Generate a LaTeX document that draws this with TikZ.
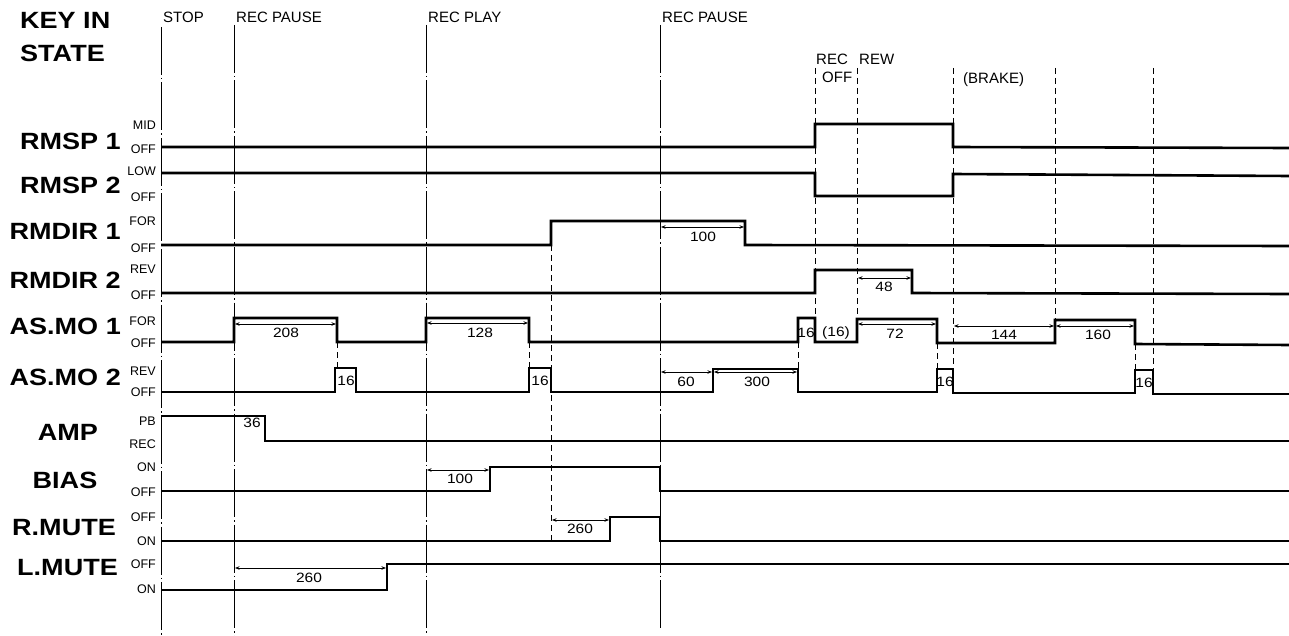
\documentclass[tikz,border=0pt]{standalone}
\usepackage{fontspec}
\setmainfont{Liberation Sans}
\newfontfamily\plotfont[FakeStretch=1.15]{Liberation Sans}
\usetikzlibrary{arrows.meta}

\begin{document}
\begin{tikzpicture}[x=1pt, y=1pt, yscale=-1,
  sig/.style={line width=2.6pt},
  keyline/.style={line width=1pt, dash pattern=on 48pt off 3pt on 1.5pt off 3pt},
  guide/.style={line width=0.9pt, dash pattern=on 6pt off 4pt},
  dim/.style={line width=0.7pt, {Stealth[length=4.5pt,width=3.5pt]}-{Stealth[length=4.5pt,width=3.5pt]}},
  signame/.style={font=\plotfont\bfseries\fontsize{23.5}{23.5}\selectfont, inner sep=0pt},
  lvl/.style={font=\fontsize{12.5}{12.5}\selectfont, anchor=east, inner sep=0pt},
  keytxt/.style={font=\fontsize{15}{15}\selectfont, anchor=base west, inner sep=0pt},
  num/.style={font=\plotfont\fontsize{13.5}{13.5}\selectfont, inner sep=0pt}]
\useasboundingbox (0,0) rectangle (1289,636);

% headings
\node[signame, anchor=base west] (keyin) at (20,29) {KEY IN};
\node[signame, anchor=base west] (state) at (20,62) {STATE};
\node[keytxt] (kstop) at (163,23) {STOP};
\node[keytxt] (krpause) at (236,23) {REC PAUSE};
\node[keytxt] (krplay) at (428,23) {REC PLAY};
\node[keytxt] (krpause2) at (662,23) {REC PAUSE};
\node[keytxt] (krec) at (816,65) {REC};
\node[keytxt] (koff) at (822,83) {OFF};
\node[keytxt] (krew) at (859,65) {REW};
\node[keytxt] (kbrake) at (963,84) {(BRAKE)};

% key in lines
\draw[keyline] (161,27) -- (161,636);
\draw[keyline] (234,25) -- (234,636);
\draw[keyline] (426,25) -- (426,634);
\draw[keyline] (660,25) -- (660,628);
\draw[guide] (815,68) -- (815,318);
\draw[guide] (857,68) -- (857,319);
\draw[guide] (953,68) -- (953,369);
\draw[guide] (1055,68) -- (1055,320);
\draw[guide] (1153,68) -- (1153,370);
\draw[guide] (551,245) -- (551,541);
\draw[guide] (337,342) -- (337,368);
\draw[guide] (529,342) -- (529,368);
\draw[guide] (798,342) -- (798,369);
\draw[guide] (937,343) -- (937,369);
\draw[guide] (1135,344) -- (1135,370);

% signal names
\node[signame, anchor=east] (rmsp1) at (121,141) {RMSP 1};
\node[signame, anchor=east] (rmsp2) at (121,185) {RMSP 2};
\node[signame, anchor=east] (rmdir1) at (121,231) {RMDIR 1};
\node[signame, anchor=east] (rmdir2) at (121,280) {RMDIR 2};
\node[signame, anchor=east] (asmo1) at (121,326) {AS.MO 1};
\node[signame, anchor=east] (asmo2) at (121,377) {AS.MO 2};
\node[signame] (amp) at (68,432) {AMP};
\node[signame] (bias) at (65,480) {BIAS};
\node[signame, anchor=east] (rmute) at (116,528) {R.MUTE};
\node[signame, anchor=east] (lmute) at (118,568) {L.MUTE};

% levels
\node[lvl] (rmsp1hi) at (156,125) {MID};
\node[lvl] (rmsp1lo) at (156,149) {OFF};
\node[lvl] (rmsp2hi) at (156,171) {LOW};
\node[lvl] (rmsp2lo) at (156,197) {OFF};
\node[lvl] (rmdir1hi) at (156,221) {FOR};
\node[lvl] (rmdir1lo) at (156,248) {OFF};
\node[lvl] (rmdir2hi) at (156,269) {REV};
\node[lvl] (rmdir2lo) at (156,295) {OFF};
\node[lvl] (asmo1hi) at (156,321) {FOR};
\node[lvl] (asmo1lo) at (156,343) {OFF};
\node[lvl] (asmo2hi) at (156,371) {REV};
\node[lvl] (asmo2lo) at (156,392) {OFF};
\node[lvl] (amphi) at (156,421) {PB};
\node[lvl] (amplo) at (156,444) {REC};
\node[lvl] (biashi) at (156,467) {ON};
\node[lvl] (biaslo) at (156,492) {OFF};
\node[lvl] (rmutehi) at (156,517) {OFF};
\node[lvl] (rmutelo) at (156,541) {ON};
\node[lvl] (lmutehi) at (156,564) {OFF};
\node[lvl] (lmutelo) at (156,589) {ON};

% waveforms
\draw[sig] (161,147) -- (815,147) -- (815,124) -- (953,124) -- (953,147) -- (1289,148);
\draw[sig] (161,173) -- (815,173) -- (815,196) -- (953,196) -- (953,174) -- (1289,176);
\draw[sig] (161,245) -- (551,245) -- (551,221) -- (745,221) -- (745,245) -- (1289,246);
\draw[sig] (161,293) -- (815,293) -- (815,270) -- (912,270) -- (912,293) -- (1289,294);
\draw[sig] (161,342) -- (234,342) -- (234,318) -- (337,318) -- (337,342) -- (426,342)
  -- (426,318) -- (529,318) -- (529,342) -- (798,342) -- (798,318) -- (815,318)
  -- (815,342) -- (857,342) -- (857,319) -- (937,319) -- (937,343) -- (1055,343)
  -- (1055,320) -- (1135,320) -- (1135,344) -- (1289,345);
\draw[sig] (161,392) -- (335,392) -- (335,368) -- (356,368) -- (356,392) -- (529,392)
  -- (529,368) -- (551,368) -- (551,392) -- (713,392) -- (713,369) -- (798,369)
  -- (798,392) -- (937,392) -- (937,369) -- (953,369) -- (953,393) -- (1135,393)
  -- (1135,370) -- (1153,370) -- (1153,394) -- (1289,394);
\draw[sig] (161,416) -- (265,416) -- (265,441) -- (1289,441);
\draw[sig] (161,491) -- (490,491) -- (490,467) -- (660,467) -- (660,491) -- (1289,491);
\draw[sig] (161,541) -- (610,541) -- (610,517) -- (660,517) -- (660,541) -- (1289,541);
\draw[sig] (161,590) -- (387,590) -- (387,564) -- (1289,564);

% times
\draw[dim] (661,227) -- (744,227);
\node[num] (t100a) at (703,237) {100};
\draw[dim] (858,278) -- (911,278);
\node[num] (t48) at (884,287) {48};
\draw[dim] (235,324) -- (336,324);
\node[num] (t208) at (286,333) {208};
\draw[dim] (427,323) -- (528,323);
\node[num] (t128) at (480,333) {128};
\node[num] (t16a) at (806,333) {16};
\node[num] (t16b) at (836,333) {(16)};
\draw[dim] (858,324) -- (936,324);
\node[num] (t72) at (895,334) {72};
\draw[dim] (954,326) -- (1054,326);
\node[num] (t144) at (1004,335) {144};
\draw[dim] (1056,326) -- (1134,326);
\node[num] (t160) at (1098,335) {160};
\draw[dim] (661,372) -- (712,372);
\node[num] (t60) at (686,382) {60};
\draw[dim] (714,372) -- (797,372);
\node[num] (t300) at (757,382) {300};
\node[num] (t16c) at (346,381) {16};
\node[num] (t16d) at (540,381) {16};
\node[num] (t16e) at (945,382) {16};
\node[num] (t16f) at (1144,383) {16};
\node[num] (t36) at (252,423) {36};
\draw[dim] (427,470) -- (489,470);
\node[num] (t100b) at (460,479) {100};
\draw[dim] (552,520) -- (609,520);
\node[num] (t260a) at (580,529) {260};
\draw[dim] (235,568) -- (386,568);
\node[num] (t260b) at (309,578) {260};
\end{tikzpicture}
\end{document}
